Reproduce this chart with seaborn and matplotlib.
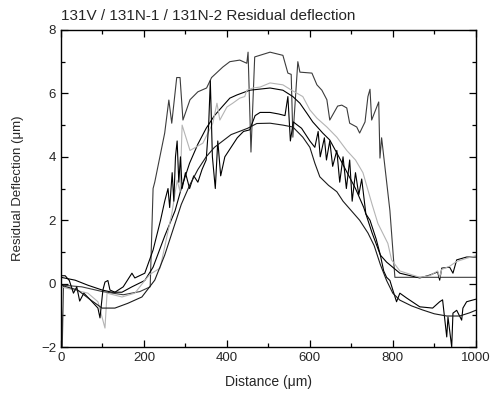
import matplotlib
matplotlib.use("Agg")
import matplotlib.pyplot as plt
from matplotlib.ticker import MultipleLocator
import seaborn as sns
import pandas as pd

# traced profiles (distance in um, deflection in um)
x_131v = [0, 3, 6, 50, 100, 150, 190, 215, 222, 226, 250, 260, 267, 279, 287, 294, 311, 330,
          351, 363, 390, 407, 431, 448, 451, 458, 467, 504, 535, 547, 555, 559, 571, 576, 605,
          617, 629, 641, 648, 667, 677, 689, 696, 713, 720, 733, 740, 745, 749, 766, 769, 773,
          793, 805, 850, 900, 1000]
y_131v = [0.0, -2.0, -0.05, -0.1, -0.25, -0.35, -0.25, -0.1, 3.0, 3.2, 4.75, 5.79, 5.06, 6.5,
          6.5, 5.16, 5.8, 6.05, 6.17, 6.5, 6.83, 7.0, 7.05, 6.95, 7.3, 4.15, 7.15, 7.3, 7.2,
          6.64, 6.6, 4.62, 7.0, 6.67, 6.64, 6.27, 6.1, 5.8, 5.16, 5.6, 5.63, 5.54, 5.06, 4.94,
          4.75, 5.1, 5.9, 6.13, 5.16, 5.73, 3.96, 4.6, 2.3, 0.2, 0.2, 0.2, 0.2]

x_131n1 = [0, 34, 65, 99, 123, 147, 171, 202, 222, 250, 275, 290, 310, 330, 350, 370, 390, 407,
           424, 455, 504, 535, 559, 576, 593, 607, 631, 648, 670, 690, 710, 730, 750, 770, 785,
           817, 865, 889, 908, 913, 918, 937, 945, 954, 978, 1000]
y_131n1 = [0.2, 0.11, -0.05, -0.2, -0.27, -0.27, -0.1, 0.1, 0.52, 1.5, 2.3, 3.0, 3.8, 4.4, 4.9,
           5.3, 5.6, 5.85, 5.95, 6.1, 6.17, 6.1, 5.9, 5.69, 5.37, 5.1, 4.75, 4.53, 4.0, 3.5, 3.0,
           2.4, 1.6, 0.9, 0.68, 0.33, 0.18, 0.27, 0.37, 0.11, 0.49, 0.52, 0.33, 0.75, 0.84, 0.84]

x_131n2 = [0, 65, 89, 106, 111, 147, 178, 202, 215, 239, 267, 280, 287, 292, 311, 342, 366, 376,
           383, 400, 414, 431, 443, 448, 463, 480, 504, 535, 556, 583, 600, 617, 641, 665, 689,
           710, 728, 750, 764, 788, 797, 817, 865, 889, 908, 913, 918, 937, 954, 978, 1000]
y_131n2 = [-0.1, -0.3, -0.57, -1.4, -0.3, -0.42, -0.3, 0.1, 0.3, 0.49, 2.2, 3.26, 2.9, 5.0, 4.2,
           4.43, 5.06, 5.69, 5.16, 5.57, 5.69, 5.85, 5.9, 6.1, 6.17, 6.2, 6.33, 6.27, 6.1, 5.9,
           5.48, 5.22, 4.94, 4.62, 4.2, 3.9, 3.5, 2.5, 1.9, 1.27, 0.75, 0.4, 0.2, 0.25, 0.4, 0.2,
           0.45, 0.55, 0.7, 0.8, 0.88]

x_ref1 = [0, 10, 20, 30, 38, 45, 55, 70, 89, 94, 101, 106, 113, 118, 130, 150, 171, 178, 202,
          222, 240, 250, 258, 262, 268, 272, 276, 280, 284, 288, 292, 300, 310, 320, 330, 340,
          350, 356, 360, 365, 372, 378, 385, 395, 410, 425, 440, 455, 468, 480, 504, 525, 540,
          547, 553, 560, 580, 600, 612, 620, 625, 635, 640, 648, 655, 665, 672, 680, 688, 696,
          702, 710, 718, 725, 735, 745, 760, 770, 778, 785, 793, 800, 809, 817, 833, 865, 896,
          913, 920, 930, 933, 942, 945, 954, 966, 969, 978, 1000]
y_ref1 = [0.25, 0.25, 0.1, -0.3, -0.1, -0.55, -0.3, -0.5, -0.77, -1.08, -0.2, 0.05, 0.1, -0.2,
          -0.27, -0.1, 0.33, 0.18, 0.33, 1.06, 2.0, 2.6, 3.0, 2.4, 3.5, 2.6, 4.0, 4.5, 3.2, 4.0,
          3.0, 3.5, 3.0, 3.4, 3.2, 3.6, 3.9, 5.0, 6.4, 4.0, 3.0, 4.5, 3.4, 4.0, 4.3, 4.6, 4.8,
          4.85, 5.3, 5.4, 5.4, 5.35, 5.3, 5.9, 4.5, 5.1, 4.9, 4.5, 4.3, 4.8, 4.0, 4.6, 3.9, 4.5,
          3.7, 4.2, 3.2, 4.0, 3.0, 3.9, 2.6, 3.5, 2.8, 3.3, 2.2, 2.0, 1.4, 0.9, 0.4, 0.2, 0.1,
          -0.2, -0.57, -0.3, -0.45, -0.73, -0.77, -0.57, -0.51, -1.68, -1.05, -2.0, -0.93,
          -0.84, -1.15, -0.77, -0.57, -0.49]

x_ref2 = [0, 40, 70, 99, 130, 161, 195, 226, 250, 270, 290, 310, 330, 350, 370, 390, 410, 430,
          450, 472, 504, 535, 559, 583, 600, 612, 624, 645, 665, 680, 700, 720, 740, 755, 770,
          785, 800, 817, 845, 872, 900, 930, 961, 985, 1000]
y_ref2 = [-0.05, -0.2, -0.5, -0.77, -0.77, -0.62, -0.42, 0.11, 0.9, 1.7, 2.5, 3.1, 3.6, 4.0,
          4.3, 4.5, 4.7, 4.8, 4.9, 5.05, 5.06, 5.0, 4.94, 4.62, 4.3, 3.8, 3.37, 3.1, 2.9, 2.6,
          2.3, 2.0, 1.6, 1.2, 0.6, 0.1, -0.3, -0.52, -0.7, -0.83, -0.95, -1.02, -1.02, -0.92,
          -0.84]

series = [
    (x_131v, y_131v, "#3c3c3c"),
    (x_131n1, y_131n1, "#000000"),
    (x_131n2, y_131n2, "#b4b4b4"),
    (x_ref1, y_ref1, "#000000"),
    (x_ref2, y_ref2, "#1a1a1a"),
]

sns.set_style("ticks")
plt.rcParams["font.family"] = ["Liberation Sans", "DejaVu Sans"]

fig = plt.figure(figsize=(4.92, 4.05), dpi=100)
ax = fig.add_axes([0.124, 0.143, 0.843, 0.783])

for xs, ys, col in series:
    df = pd.DataFrame({"x": xs, "y": ys})
    sns.lineplot(data=df, x="x", y="y", color=col, linewidth=0.8,
                 estimator=None, sort=False, ax=ax)

ax.set_xlim(0, 1000)
ax.set_ylim(-2, 8)
ax.xaxis.set_major_locator(MultipleLocator(200))
ax.xaxis.set_minor_locator(MultipleLocator(100))
ax.yaxis.set_major_locator(MultipleLocator(2))
ax.yaxis.set_minor_locator(MultipleLocator(1))
ax.tick_params(which="both", direction="in", top=True, right=True, labelsize=9.5,
               width=0.9, color="black")
ax.tick_params(which="major", length=5)
ax.tick_params(which="minor", length=3)
for sp in ax.spines.values():
    sp.set_linewidth(1.0)
    sp.set_color("black")

ax.set_xlabel("Distance (\u03bcm)", fontsize=10, labelpad=8)
ax.set_ylabel("Residual Deflection (\u03bcm)", fontsize=9.5, labelpad=12)
ax.set_title("131V / 131N-1 / 131N-2 Residual deflection", fontsize=11, loc="left", pad=7)

fig.savefig("out.png", dpi=100)
